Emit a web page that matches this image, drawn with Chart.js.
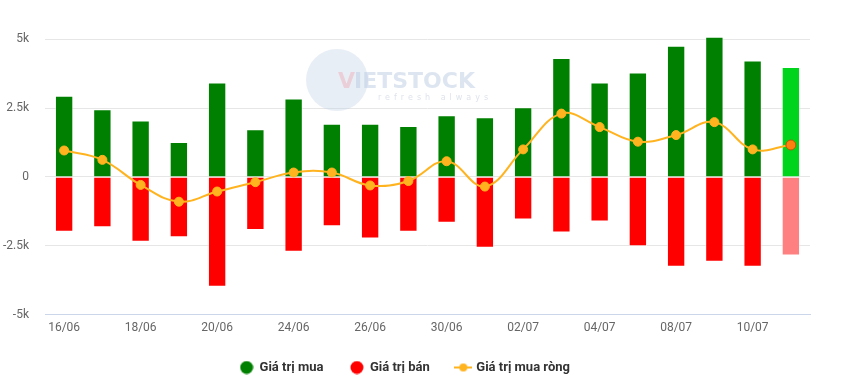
<!DOCTYPE html>
<html>
<head>
<meta charset="utf-8">
<script src="https://cdn.jsdelivr.net/npm/chart.js@4.4.0/dist/chart.umd.min.js"></script>
<style>
  html, body { margin: 0; padding: 0; background: #fff; }
  #wrap { width: 845px; height: 390px; position: relative; }
</style>
</head>
<body>
<div id="wrap"><canvas id="trade-chart"></canvas></div>
<script>
// data (units: same as axis, k = 1000)
var labels = ['16/06','17/06','18/06','19/06','20/06','23/06','24/06','25/06','26/06','27/06',
              '30/06','01/07','02/07','03/07','04/07','07/07','08/07','09/07','10/07','11/07'];
var buyValues = [2950,2460,2050,1270,3430,1730,2850,1930,1930,1850,2240,2170,2530,4320,3430,3790,4760,5090,4230,3990];
var sellValues = [-1990,-1830,-2350,-2190,-3990,-1930,-2720,-1790,-2240,-1990,-1660,-2570,-1550,-2020,-1620,-2520,-3260,-3080,-3260,-2850];
var netValues = [960,620,-290,-900,-530,-190,160,160,-310,-150,570,-350,1000,2300,1810,1280,1520,1990,1000,1160];
var yTicks = [-5000,-2500,0,2500,5000];
var seriesNames = ['Giá trị mua', 'Giá trị bán', 'Giá trị mua ròng'];

var last = labels.length - 1;
var buyColors = labels.map(function(l, i) { return i === last ? '#00d41c' : '#008000'; });
var sellColors = labels.map(function(l, i) { return i === last ? '#ff8080' : '#ff0000'; });
var netPointColors = labels.map(function(l, i) { return i === last ? '#ff7f0e' : '#ffb31f'; });
var netPointBorders = labels.map(function(l, i) { return i === last ? '#b5560a' : '#ffb31f'; });
var netPointRadius = labels.map(function(l, i) { return i === last ? 5 : 4.5; });

// legend icons
function circleIcon(color) {
  var c = document.createElement('canvas');
  c.width = 14; c.height = 14;
  var x = c.getContext('2d');
  x.fillStyle = color;
  x.beginPath(); x.arc(7, 7, 6.5, 0, Math.PI * 2); x.fill();
  return c;
}
function lineIcon(color) {
  var c = document.createElement('canvas');
  c.width = 18; c.height = 10;
  var x = c.getContext('2d');
  x.strokeStyle = color; x.lineWidth = 2;
  x.beginPath(); x.moveTo(0, 5); x.lineTo(18, 5); x.stroke();
  x.fillStyle = color;
  x.beginPath(); x.arc(9, 5, 4, 0, Math.PI * 2); x.fill();
  return c;
}
var legendIcons = [circleIcon('#008000'), circleIcon('#ff0000'), lineIcon('#ffb31f')];

function fmtK(v) {
  if (v === 0) return '0';
  return (v / 1000) + 'k';
}

var watermark = {
  id: 'watermark',
  beforeDatasetsDraw: function(chart) {
    var ctx = chart.ctx;
    ctx.save();
    ctx.fillStyle = 'rgba(190,205,228,0.35)';
    ctx.beginPath(); ctx.arc(337, 80, 31, 0, Math.PI * 2); ctx.fill();
    ctx.font = 'bold 22px "DejaVu Sans", sans-serif';
    ctx.textBaseline = 'alphabetic';
    ctx.fillStyle = 'rgba(240,160,170,0.4)';
    ctx.fillText('V', 338, 88);
    ctx.fillStyle = 'rgba(180,198,225,0.45)';
    ctx.fillText('IETSTOCK', 354, 88);
    ctx.font = '8px "DejaVu Sans", sans-serif';
    ctx.letterSpacing = '4px';
    ctx.fillStyle = 'rgba(190,200,215,0.5)';
    ctx.fillText('refresh always', 378, 100);
    ctx.restore();
  }
};

var ctx = document.getElementById('trade-chart').getContext('2d');
var chart = new Chart(ctx, {
  data: {
    labels: labels,
    datasets: [
      {
        type: 'line',
        label: seriesNames[2],
        data: netValues,
        borderColor: '#ffb31f',
        borderWidth: 2,
        tension: 0.4,
        pointRadius: netPointRadius,
        pointBackgroundColor: netPointColors,
        pointBorderColor: netPointBorders,
        pointBorderWidth: 1,
        order: 0
      },
      {
        type: 'bar',
        label: seriesNames[0],
        data: buyValues,
        backgroundColor: buyColors,
        borderColor: 'rgba(255,255,255,0.45)',
        borderWidth: 1,
        grouped: false,
        barPercentage: 0.48,
        categoryPercentage: 1,
        order: 1
      },
      {
        type: 'bar',
        label: seriesNames[1],
        data: sellValues,
        backgroundColor: sellColors,
        borderColor: 'rgba(255,255,255,0.45)',
        borderWidth: 1,
        grouped: false,
        barPercentage: 0.48,
        categoryPercentage: 1,
        order: 2
      }
    ]
  },
  options: {
    responsive: true,
    maintainAspectRatio: false,
    animation: false,
    layout: { padding: { top: 31, right: 35, left: 0, bottom: 6 } },
    scales: {
      x: {
        offset: true,
        grid: { display: false, drawTicks: false, tickLength: 0 },
        border: { display: true, color: '#ccd6eb', width: 1 },
        afterFit: function(axis) { axis.height -= 7; },
        ticks: {
          color: '#666666',
          font: { family: 'Roboto', size: 12 },
          autoSkip: false,
          maxRotation: 0,
          padding: 6,
          callback: function(v, i) { return i % 2 === 0 ? labels[i] : ''; }
        }
      },
      y: {
        min: -5000,
        max: 5300,
        afterBuildTicks: function(axis) {
          axis.ticks = yTicks.map(function(v) { return { value: v }; });
        },
        afterFit: function(axis) { axis.width = 45; },
        border: { display: false },
        grid: {
          drawTicks: false,
          color: function(c) { return c.tick && c.tick.value === -5000 ? 'rgba(0,0,0,0)' : '#e6e6e6'; }
        },
        ticks: {
          color: '#666666',
          font: { family: 'Roboto', size: 12 },
          padding: 16,
          callback: function(v) { return fmtK(v); }
        }
      }
    },
    plugins: {
      tooltip: { enabled: false },
      legend: {
        position: 'bottom',
        labels: {
          color: '#333333',
          font: { family: 'Roboto', size: 13, weight: 'bold' },
          usePointStyle: true,
          boxWidth: 15,
          boxHeight: 14,
          padding: 27,
          generateLabels: function(chart) {
            var items = Chart.defaults.plugins.legend.labels.generateLabels(chart);
            var byName = {};
            items.forEach(function(it) { byName[it.text] = it; });
            return seriesNames.map(function(n, i) {
              var it = byName[n];
              it.pointStyle = legendIcons[i];
              it.fontColor = '#333333';
              return it;
            });
          }
        }
      }
    }
  },
  plugins: [watermark]
});
</script>
</body>
</html>
